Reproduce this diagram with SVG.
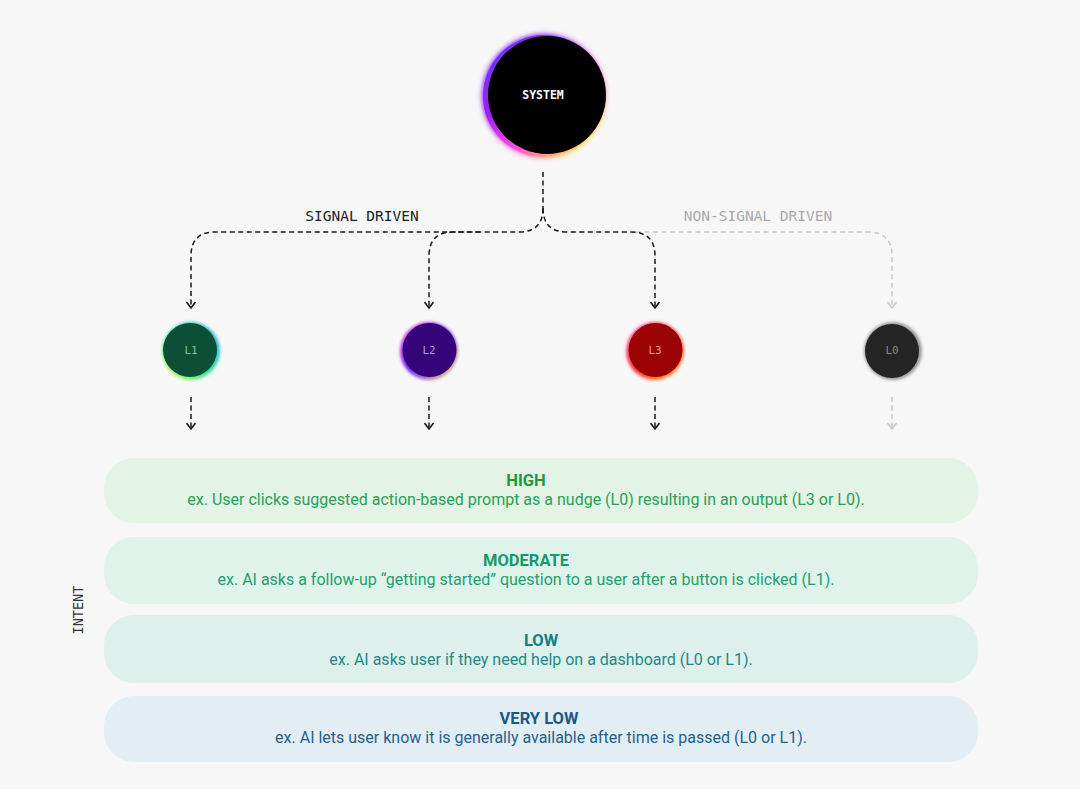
<svg xmlns="http://www.w3.org/2000/svg" width="1080" height="789" viewBox="0 0 1080 789">
<defs>
<style>
.mono{font-family:"DejaVu Sans Mono","Liberation Mono",monospace}
.dash{fill:none;stroke:#1a1a1a;stroke-width:1.5;stroke-dasharray:5 3.5}
.dashg{fill:none;stroke:#c9c9c9;stroke-width:1.5;stroke-dasharray:5 3.5}
.bar-t{font-family:Roboto,"Liberation Sans",sans-serif;font-weight:700;font-size:16.5px;text-anchor:middle}
.bar-d{font-family:Roboto,"Liberation Sans",sans-serif;font-size:16px;text-anchor:middle}
.lvl{font-size:11px;text-anchor:middle}
</style>
<marker id="ah" viewBox="0 0 10 10" refX="8" refY="5" markerWidth="10" markerHeight="10" markerUnits="userSpaceOnUse" orient="auto">
<path d="M2,0.5 L8,5 L2,9.5" fill="none" stroke="#1a1a1a" stroke-width="1.6"/>
</marker>
<marker id="ahg" viewBox="0 0 10 10" refX="8" refY="5" markerWidth="10" markerHeight="10" markerUnits="userSpaceOnUse" orient="auto">
<path d="M2,0.5 L8,5 L2,9.5" fill="none" stroke="#c9c9c9" stroke-width="1.6"/>
</marker>
<filter id="blur" x="-30%" y="-30%" width="160%" height="160%"><feGaussianBlur stdDeviation="2.5"/></filter>
<filter id="blur2" x="-30%" y="-30%" width="160%" height="160%"><feGaussianBlur stdDeviation="1.5"/></filter>
<linearGradient id="gSys" x1="0" y1="0" x2="1" y2="1">
<stop offset="0" stop-color="#5a3cff"/><stop offset="0.35" stop-color="#a020f0"/><stop offset="0.6" stop-color="#ff4fd8"/><stop offset="0.85" stop-color="#ffd84a"/><stop offset="1" stop-color="#ffe98a"/>
</linearGradient>
<linearGradient id="gL1" x1="1" y1="0" x2="0" y2="1">
<stop offset="0" stop-color="#3aa0ff"/><stop offset="0.5" stop-color="#30e0a0"/><stop offset="1" stop-color="#c8ff3a"/>
</linearGradient>
<linearGradient id="gL2" x1="0" y1="0" x2="1" y2="1">
<stop offset="0" stop-color="#ff3ad0"/><stop offset="0.5" stop-color="#6a2aff"/><stop offset="1" stop-color="#ffd84a"/>
</linearGradient>
<linearGradient id="gL3" x1="0" y1="0" x2="1" y2="1">
<stop offset="0" stop-color="#ff5ac8"/><stop offset="0.5" stop-color="#ff3030"/><stop offset="1" stop-color="#ffb030"/>
</linearGradient>
</defs>
<rect width="1080" height="789" fill="#f7f7f7"/>

<g id="connectors">
<path class="dash" d="M543,172 V208"/>
<path class="dashg" d="M636,232 H868 Q892,232 892,256 V308" marker-end="url(#ahg)"/>
<path class="dash" d="M543,208 Q543,232 519,232 H215 Q191,232 191,256 V308" marker-end="url(#ah)"/>
<path class="dash" d="M480,232 H453 Q429,232 429,256 V308" marker-end="url(#ah)"/>
<path class="dash" d="M543,208 Q543,232 567,232 H631 Q655,232 655,256 V308" marker-end="url(#ah)"/>
<path class="dash" d="M191,397 V429" marker-end="url(#ah)"/>
<path class="dash" d="M429,397 V429" marker-end="url(#ah)"/>
<path class="dash" d="M655,397 V429" marker-end="url(#ah)"/>
<path class="dashg" d="M892,397 V429" marker-end="url(#ahg)"/>
<text class="mono" x="362" y="221" font-size="14.5" text-anchor="middle" fill="#222">SIGNAL DRIVEN</text>
<text class="mono" x="758" y="221" font-size="14.5" text-anchor="middle" fill="#aaaaaa">NON-SIGNAL DRIVEN</text>
</g>

<g id="system">
<circle cx="544" cy="96" r="62" fill="url(#gSys)" filter="url(#blur)"/>
<circle cx="544" cy="96" r="61" fill="url(#gSys)"/>
<circle cx="547" cy="95" r="59" fill="#000"/>
<text class="mono" x="543" y="99" font-size="11.5" font-weight="700" text-anchor="middle" fill="#fff">SYSTEM</text>
</g>

<g id="L1">
<circle cx="191" cy="351" r="29" fill="url(#gL1)" filter="url(#blur2)"/>
<circle cx="190" cy="350" r="27" fill="#0c4f36"/>
<text class="mono lvl" x="191" y="354" fill="#8fb8a6">L1</text>
</g>
<g id="L2">
<circle cx="429" cy="351" r="29" fill="url(#gL2)" filter="url(#blur2)"/>
<circle cx="429.5" cy="350" r="27" fill="#36047a"/>
<text class="mono lvl" x="429" y="354" fill="#a99ad0">L2</text>
</g>
<g id="L3">
<circle cx="655" cy="351" r="29" fill="url(#gL3)" filter="url(#blur2)"/>
<circle cx="655.5" cy="350" r="27" fill="#9b0202"/>
<text class="mono lvl" x="655" y="354" fill="#e69a9a">L3</text>
</g>
<g id="L0">
<circle cx="893" cy="351" r="29" fill="#9a9a9a" filter="url(#blur2)"/>
<circle cx="892" cy="351" r="27" fill="#242424"/>
<text class="mono lvl" x="892" y="354" fill="#8a8a8a">L0</text>
</g>

<g id="high">
<rect x="104" y="458" width="874" height="65" rx="30" fill="#e3f3e5"/>
<text class="bar-t" x="526" y="486" fill="#1e9a40">HIGH</text>
<text class="bar-d" x="526" y="505" fill="#2aa058">ex. User clicks suggested action-based prompt as a nudge (L0) resulting in an output (L3 or L0).</text>
</g>
<g id="moderate">
<rect x="104" y="537" width="874" height="67" rx="30" fill="#e0f3ea"/>
<text class="bar-t" x="526" y="566" fill="#18996a">MODERATE</text>
<text class="bar-d" x="526" y="585" fill="#22a070">ex. AI asks a follow-up “getting started” question to a user after a button is clicked (L1).</text>
</g>
<g id="low">
<rect x="104" y="615" width="874" height="68" rx="30" fill="#def0ec"/>
<text class="bar-t" x="541" y="646" fill="#14807f">LOW</text>
<text class="bar-d" x="541" y="665" fill="#1d8a88">ex. AI asks user if they need help on a dashboard (L0 or L1).</text>
</g>
<g id="verylow">
<rect x="104" y="696" width="874" height="66" rx="30" fill="#e2eef3"/>
<text class="bar-t" x="539" y="724" fill="#1a5a85">VERY LOW</text>
<text class="bar-d" x="541" y="743" fill="#1f628e">ex. AI lets user know it is generally available after time is passed (L0 or L1).</text>
</g>

<g id="intent">
<text class="mono" x="0" y="0" font-size="13.5" text-anchor="middle" fill="#333" transform="translate(83,610) rotate(-90)">INTENT</text>
</g>
</svg>
